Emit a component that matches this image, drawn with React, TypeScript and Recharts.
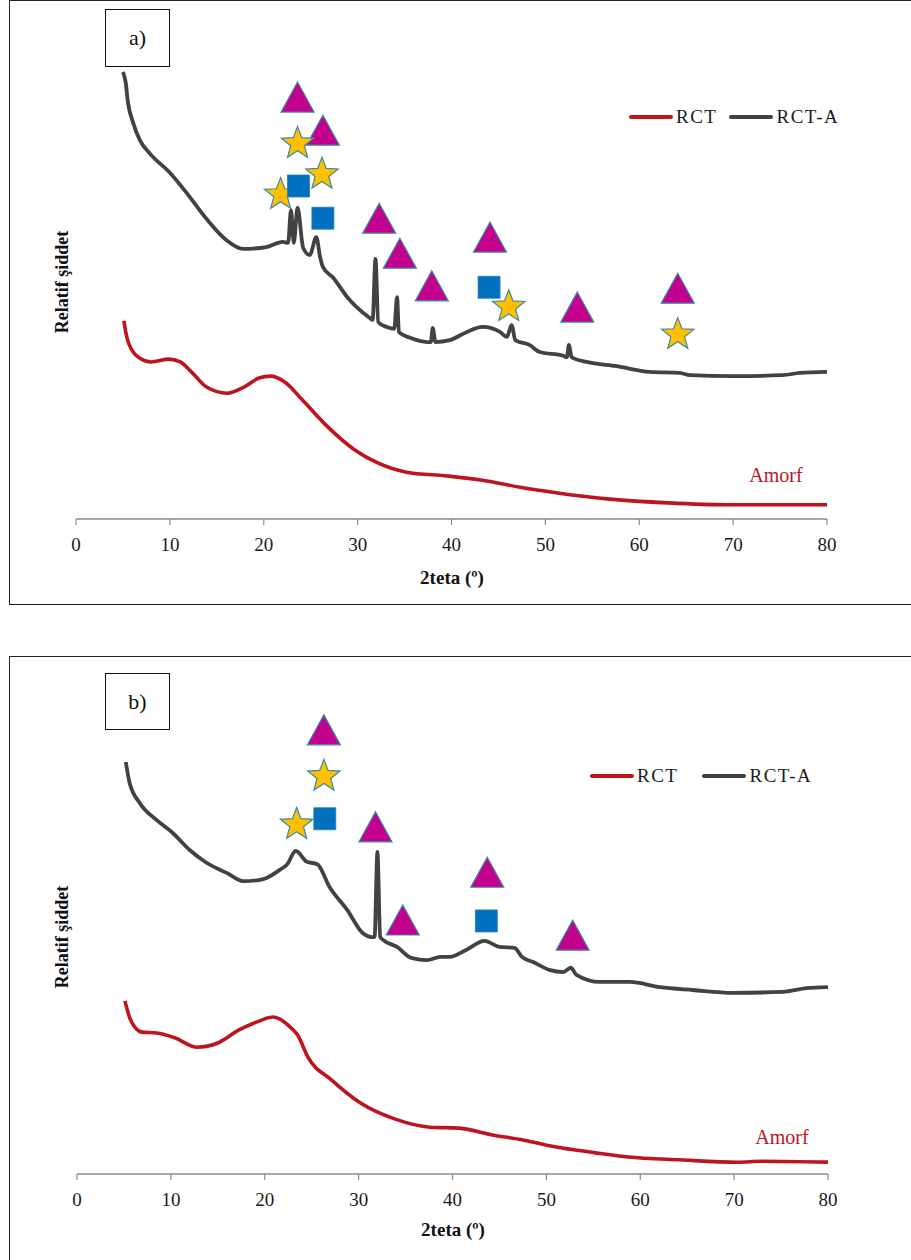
import React from 'react';
import { ComposedChart, Line, Scatter, XAxis, YAxis, Legend } from 'recharts';

type Pair = [number, number];

// 2θ axis ticks
const twoThetaTicks = [0, 10, 20, 30, 40, 50, 60, 70, 80];

// ---- Panel a) ----
const rctAPanelA: Pair[] = [
  [5.0, 94.5], [5.3, 92.2], [5.5, 88.6], [6.1, 83.7], [6.8, 80.1], [7.9, 77.2], [10.0, 73.2],
  [11.8, 68.9], [14.0, 63.2], [16.0, 59.0], [17.8, 57.1], [20.3, 57.5], [22.0, 58.6], [22.6, 58.4],
  [22.9, 65.3], [23.2, 58.4], [23.6, 65.8], [24.2, 57.3], [24.9, 55.8], [25.6, 59.6], [26.0, 55.4],
  [26.3, 53.3], [27.4, 51.0], [28.9, 46.9], [29.9, 44.8], [31.3, 42.5], [31.6, 42.1], [31.9, 55.0],
  [32.2, 41.6], [33.1, 40.6], [33.9, 40.2], [34.2, 46.9], [34.4, 39.5], [35.6, 38.3], [37.4, 37.4],
  [37.8, 37.4], [38.0, 40.4], [38.3, 37.4], [39.8, 37.8], [41.6, 39.5], [43.3, 40.6], [45.2, 39.5],
  [45.9, 38.5], [46.4, 41.0], [46.8, 37.8], [48.3, 36.8], [49.4, 35.3], [51.9, 34.5], [52.3, 34.2],
  [52.5, 36.8], [52.8, 34.2], [54.4, 33.2], [57.6, 32.3], [61.1, 31.1], [64.3, 30.9], [65.4, 30.4],
  [70.0, 30.2], [75.3, 30.4], [77.1, 30.9], [80.0, 31.1],
];
const rctPanelA: Pair[] = [
  [5.1, 41.9], [5.3, 39.5], [5.6, 37.2], [6.8, 34.0], [8.0, 33.2], [9.9, 33.8], [11.1, 33.2],
  [12.4, 30.9], [13.9, 27.9], [16.1, 26.6], [17.9, 27.9], [19.5, 29.8], [20.7, 30.2], [22.2, 29.0],
  [24.1, 25.2], [26.6, 19.9], [29.7, 14.6], [32.2, 11.8], [35.2, 9.9], [39.6, 9.1], [43.3, 8.2],
  [47.6, 6.6], [51.3, 5.5], [56.9, 4.2], [63.1, 3.4], [69.3, 3.0], [75.5, 3.0], [80.0, 3.0],
];
const trianglesA: Pair[] = [
  [23.6, 89.2], [26.3, 82.2], [32.3, 63.6], [34.5, 56.2], [37.9, 49.3], [44.1, 59.6], [53.4, 44.8], [64.1, 48.8],
];
const starsA: Pair[] = [[23.6, 79.7], [26.2, 73.2], [21.8, 68.9], [46.1, 45.2], [64.1, 39.3]];
const squaresA: Pair[] = [[23.7, 70.4], [26.3, 63.6], [44.0, 49.0]];

// ---- Panel b) ----
const rctAPanelB: Pair[] = [
  [5.2, 87.1], [5.6, 82.7], [6.7, 78.4], [8.5, 74.8], [10.2, 72.1], [12.0, 68.5], [13.8, 65.8],
  [16.0, 63.6], [17.7, 61.9], [19.5, 62.2], [20.2, 62.6], [21.6, 64.3], [22.4, 65.5], [23.3, 68.3],
  [24.5, 66.0], [25.6, 65.5], [26.9, 60.7], [28.8, 55.8], [30.4, 51.0], [31.4, 50.1], [31.7, 50.1],
  [32.0, 68.1], [32.3, 50.1], [32.6, 49.5], [34.1, 48.0], [35.6, 45.7], [37.3, 45.2], [38.7, 45.9],
  [39.7, 45.9], [41.5, 47.4], [43.4, 49.3], [45.0, 48.0], [46.6, 47.8], [47.4, 45.9], [48.6, 44.8],
  [50.4, 43.1], [51.8, 42.7], [52.6, 43.6], [53.2, 42.1], [55.7, 40.6], [58.9, 40.6], [62.1, 39.5],
  [65.6, 38.9], [69.9, 38.3], [75.2, 38.5], [77.7, 39.3], [80.0, 39.5],
];
const rctPanelB: Pair[] = [
  [5.1, 36.6], [5.7, 32.6], [6.9, 30.0], [8.5, 29.8], [10.4, 28.8], [12.8, 26.8], [15.0, 27.7],
  [17.2, 30.4], [19.1, 32.1], [20.9, 33.2], [22.8, 30.9], [23.5, 29.4], [24.6, 24.7], [27.1, 19.9],
  [30.2, 15.0], [33.9, 11.6], [37.6, 9.9], [40.7, 9.7], [44.4, 8.2], [47.5, 7.2], [50.0, 6.1],
  [53.7, 4.9], [58.7, 3.6], [64.2, 3.0], [70.4, 2.5], [72.9, 2.7], [80.0, 2.5],
];
const trianglesB: Pair[] = [[26.3, 93.9], [31.8, 73.4], [34.7, 53.7], [43.7, 63.8], [52.8, 50.5]];
const starsB: Pair[] = [[26.3, 84.4], [23.4, 74.2]];
const squaresB: Pair[] = [[26.4, 75.1], [43.6, 53.5]];

const toPts = (p: Pair[]) => p.map(([x, y]) => ({ x, y }));

const RED = '#BE141E';
const GRAY = '#424242';
const AXIS = '#8a8a8a';
const OUTLINE = '#3a8aa4';
const SERIF = "'Liberation Serif', 'DejaVu Serif', serif";

const TriangleMark = (p: any) => {
  const { cx, cy } = p;
  return (
    <path
      d={`M${cx},${cy - 15} L${cx + 16.5},${cy + 15} L${cx - 16.5},${cy + 15} Z`}
      fill="#C4008F"
      stroke={OUTLINE}
      strokeWidth={1.2}
    />
  );
};

const StarMark = (p: any) => {
  const { cx, cy } = p;
  const R = 17;
  const r = 7.2;
  const pts: string[] = [];
  for (let i = 0; i < 10; i++) {
    const rad = i % 2 === 0 ? R : r;
    const a = -Math.PI / 2 + (i * Math.PI) / 5;
    pts.push(`${cx + rad * Math.cos(a)},${cy + 1.5 + rad * Math.sin(a)}`);
  }
  return <polygon points={pts.join(' ')} fill="#FFC000" stroke={OUTLINE} strokeWidth={1.2} />;
};

const SquareMark = (p: any) => {
  const { cx, cy } = p;
  return <rect x={cx - 11} y={cy - 11} width={22} height={22} fill="#0070C0" stroke="#2f7fb0" strokeWidth={0.8} />;
};

const makeLegend = (gap: number) => (props: any) => {
  const items = (props.payload || []).filter((e: any) => e.type === 'line');
  return (
    <div style={{ display: 'flex', alignItems: 'center' }}>
      {items.map((e: any, i: number) => (
        <div key={e.value} style={{ display: 'flex', alignItems: 'center', marginLeft: i ? gap : 0 }}>
          <svg width={44} height={8}>
            <line x1={2} y1={4} x2={42} y2={4} stroke={e.color} strokeWidth={4} strokeLinecap="round" />
          </svg>
          <span style={{ marginLeft: 3, fontFamily: SERIF, fontSize: 19, letterSpacing: 1.5, color: '#1a1a1a', lineHeight: '22px' }}>
            {e.value}
          </span>
        </div>
      ))}
    </div>
  );
};

type PanelProps = {
  top: number;
  height: number;
  margin: { top: number; right: number; bottom: number; left: number };
  rctA: Pair[];
  rct: Pair[];
  tri: Pair[];
  star: Pair[];
  sq: Pair[];
  legendPos: { left: number; top: number };
  legendGap: number;
};

function XrdPanel(props: PanelProps) {
  const { top, height, margin, rctA, rct, tri, star, sq, legendPos, legendGap } = props;
  return (
    <div style={{ position: 'absolute', left: 0, top }}>
      <ComposedChart width={911} height={height} margin={margin} style={{ fontFamily: SERIF }}>
        <XAxis
          type="number"
          dataKey="x"
          domain={[0, 80]}
          ticks={twoThetaTicks}
          allowDataOverflow
          height={30}
          tickSize={6}
          tickMargin={13}
          axisLine={{ stroke: AXIS, strokeWidth: 1.5 }}
          tickLine={{ stroke: AXIS, strokeWidth: 1.2 }}
          tick={{ fill: '#1a1a1a', fontSize: 19, fontFamily: SERIF }}
        />
        <YAxis
          type="number"
          dataKey="y"
          domain={[0, 100]}
          width={0}
          tick={false}
          tickLine={false}
          axisLine={{ stroke: AXIS, strokeWidth: 1.5 }}
        />
        <Legend
          layout="horizontal"
          verticalAlign="middle"
          align="center"
          content={makeLegend(legendGap)}
          wrapperStyle={{ left: legendPos.left, top: legendPos.top, width: 'auto' }}
        />
        <Line
          data={toPts(rct)}
          dataKey="y"
          name="RCT"
          type="monotone"
          stroke={RED}
          strokeWidth={3.6}
          dot={false}
          isAnimationActive={false}
        />
        <Line
          data={toPts(rctA)}
          dataKey="y"
          name="RCT-A"
          type="monotone"
          stroke={GRAY}
          strokeWidth={3.8}
          dot={false}
          isAnimationActive={false}
        />
        <Scatter data={toPts(tri)} dataKey="y" shape={TriangleMark} legendType="none" isAnimationActive={false} />
        <Scatter data={toPts(star)} dataKey="y" shape={StarMark} legendType="none" isAnimationActive={false} />
        <Scatter data={toPts(sq)} dataKey="y" shape={SquareMark} legendType="none" isAnimationActive={false} />
      </ComposedChart>
    </div>
  );
}

const textAbs = (left: number, top: number, extra: React.CSSProperties = {}): React.CSSProperties => ({
  position: 'absolute',
  left,
  top,
  fontFamily: SERIF,
  whiteSpace: 'nowrap',
  ...extra,
});

function PanelDecor({ top, letter, boxTop, boxH }: { top: number; letter: string; boxTop: number; boxH: number }) {
  return (
    <>
      <div
        style={{
          position: 'absolute',
          left: 105,
          top: boxTop,
          width: 65,
          height: boxH,
          border: '1.5px solid #111',
          boxSizing: 'border-box',
          background: '#fff',
          display: 'flex',
          alignItems: 'center',
          justifyContent: 'center',
          fontFamily: SERIF,
          fontSize: 22,
          color: '#111',
        }}
      >
        {letter}
      </div>
      <div
        style={textAbs(62, top, {
          transform: 'translate(-50%, -50%) rotate(-90deg)',
          fontWeight: 'bold',
          fontSize: 18,
          color: '#111',
        })}
      >
        Relatif şiddet
      </div>
    </>
  );
}

export default function App() {
  return (
    <div style={{ position: 'absolute', left: 0, top: 0, width: 911, height: 1260, overflow: 'hidden', background: '#fff' }}>
      {/* panel frames */}
      <div style={{ position: 'absolute', left: 9, top: 0, width: 940, height: 605, border: '1.5px solid #222', boxSizing: 'border-box' }} />
      <div style={{ position: 'absolute', left: 9, top: 656, width: 940, height: 640, border: '1.5px solid #222', boxSizing: 'border-box' }} />

      <XrdPanel
        top={0}
        height={604}
        margin={{ top: 46, right: 84, bottom: 55, left: 76 }}
        rctA={rctAPanelA}
        rct={rctPanelA}
        tri={trianglesA}
        star={starsA}
        sq={squaresA}
        legendPos={{ left: 629, top: 106 }}
        legendGap={12}
      />
      <XrdPanel
        top={655}
        height={605}
        margin={{ top: 46, right: 83, bottom: 56, left: 77 }}
        rctA={rctAPanelB}
        rct={rctPanelB}
        tri={trianglesB}
        star={starsB}
        sq={squaresB}
        legendPos={{ left: 590, top: 110 }}
        legendGap={24}
      />

      <PanelDecor top={282} letter="a)" boxTop={9} boxH={58} />
      <PanelDecor top={937} letter="b)" boxTop={673} boxH={57} />

      {/* x-axis titles */}
      <div style={textAbs(452, 578, { transform: 'translate(-50%, -50%)', fontWeight: 'bold', fontSize: 19, color: '#111' })}>
        2teta (º)
      </div>
      <div style={textAbs(453, 1230, { transform: 'translate(-50%, -50%)', fontWeight: 'bold', fontSize: 19, color: '#111' })}>
        2teta (º)
      </div>

      {/* amorphous phase note */}
      <div style={textAbs(776, 475, { transform: 'translate(-50%, -50%)', fontSize: 20, color: RED })}>Amorf</div>
      <div style={textAbs(782, 1137, { transform: 'translate(-50%, -50%)', fontSize: 20, color: RED })}>Amorf</div>
    </div>
  );
}
